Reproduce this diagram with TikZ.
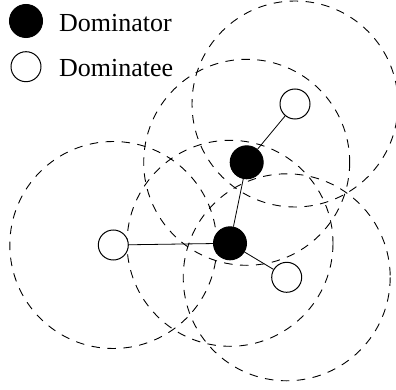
\documentclass[tikz,border=0pt]{standalone}
\usepackage{fontspec}
\setmainfont{Liberation Serif}
\begin{document}
\begin{tikzpicture}[x=1pt,y=-1pt,
  txrange/.style={draw=black,line width=0.9pt,dash pattern=on 8.5pt off 7.5pt},
  domr/.style={circle,draw=black,fill=black,line width=1pt,minimum size=33pt,inner sep=0pt},
  domee/.style={circle,draw=black,fill=white,line width=1pt,minimum size=30pt,inner sep=0pt},
  link/.style={draw=black,line width=0.8pt},
  legendtext/.style={anchor=base west,inner sep=0pt,font=\fontsize{26pt}{28pt}\selectfont}]
\useasboundingbox (0,0) rectangle (396,390);
% positions
\coordinate (pA) at (295,104);
\coordinate (pB) at (246.7,162.3);
\coordinate (pC) at (113.3,245);
\coordinate (pD) at (230,243.3);
\coordinate (pE) at (286.7,277.3);
% ranges
\draw[txrange] (pA) circle[radius=103];
\draw[txrange] (pB) circle[radius=103];
\draw[txrange] (pC) circle[radius=103.5];
\draw[txrange] (pD) circle[radius=103];
\draw[txrange] (pE) circle[radius=103.5];
% nodes
\node[domee] (A) at (pA) {};
\node[domr] (B) at (pB) {};
\node[domee] (C) at (pC) {};
\node[domr] (D) at (pD) {};
\node[domee] (E) at (pE) {};
\draw[link] (A) -- (B);
\draw[link] (B) -- (D);
\draw[link] (C) -- (D);
\draw[link] (D) -- (E);
% legend
\node[domr] (l1) at (26,21) {};
\node[domee] (l2) at (26,66.7) {};
\node[legendtext] (t1) at (59,31.7) {Dominator};
\node[legendtext] (t2) at (59,77) {Dominatee};
\end{tikzpicture}
\end{document}
